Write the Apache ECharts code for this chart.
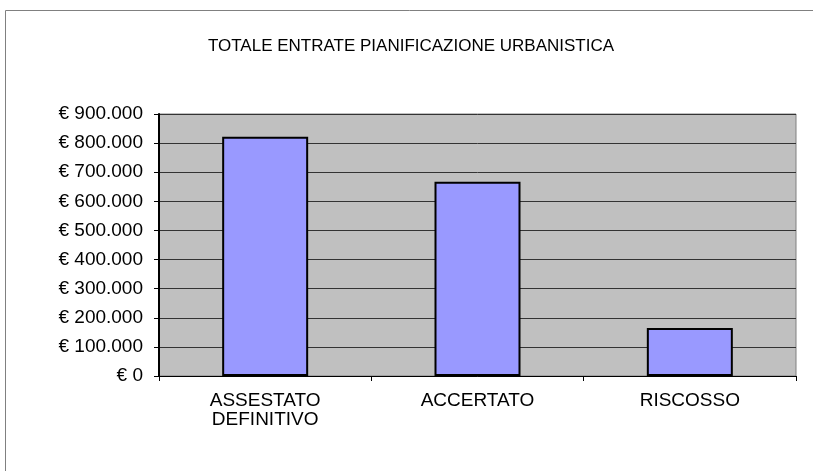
<!DOCTYPE html>
<html>
<head>
<meta charset="utf-8">
<script src="https://cdn.jsdelivr.net/npm/echarts@6/dist/echarts.min.js"></script>
<style>
  html, body { margin: 0; padding: 0; background: #fff; }
  #main { width: 813px; height: 471px; }
</style>
</head>
<body>
<div id="main"></div>
<script>
var categories = ['ASSESTATO\nDEFINITIVO', 'ACCERTATO', 'RISCOSSO'];
var values = [822000, 667000, 165000];
var titleText = 'TOTALE ENTRATE PIANIFICAZIONE URBANISTICA';

function euro(v) {
  var s = String(Math.round(v)).replace(/\B(?=(\d{3})+(?!\d))/g, '.');
  return '€ ' + s;
}

var chart = echarts.init(document.getElementById('main'));
var font = 'Liberation Sans, Arial, sans-serif';
chart.setOption({
  animation: false,
  textStyle: { fontFamily: font },
  title: {
    text: titleText,
    left: 406, top: 33, textAlign: 'center',
    textStyle: { fontSize: 17, fontWeight: 'normal', color: '#000', fontFamily: font }
  },
  graphic: [{
    type: 'rect', z: -10,
    shape: { x: 5.5, y: 10.5, width: 900, height: 600 },
    style: { fill: 'none', stroke: '#808080', lineWidth: 1 }
  }],
  grid: {
    left: 159, top: 114, right: 17, bottom: 95,
    show: true, backgroundColor: '#C0C0C0', borderColor: '#808080', borderWidth: 1
  },
  xAxis: {
    type: 'category',
    data: categories,
    axisLine: { lineStyle: { color: '#000', width: 1 } },
    axisTick: { show: true, length: 5, alignWithLabel: false, lineStyle: { color: '#000' } },
    axisLabel: { color: '#000', fontSize: 19, margin: 15, lineHeight: 19, fontFamily: font }
  },
  yAxis: {
    type: 'value',
    min: 0, max: 900000, interval: 100000,
    axisLine: { show: true, lineStyle: { color: '#000', width: 2 } },
    axisTick: { show: true, length: 5, lineStyle: { color: '#000' } },
    splitLine: { lineStyle: { color: '#333', width: 1 } },
    axisLabel: { color: '#000', fontSize: 19, margin: 16, formatter: euro, fontFamily: font }
  },
  series: [{
    type: 'bar',
    data: values,
    barWidth: '40.5%',
    itemStyle: { color: '#9999FF', borderColor: '#000', borderWidth: 2 }
  }]
});
</script>
</body>
</html>
